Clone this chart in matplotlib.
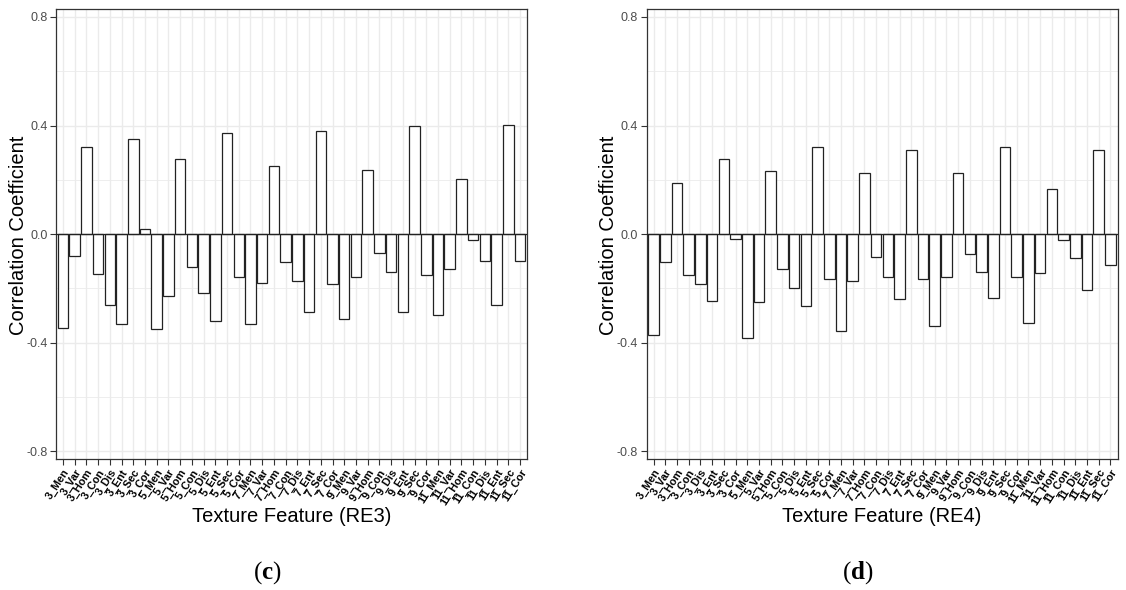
import numpy as np
import matplotlib
matplotlib.use("Agg")
import matplotlib.pyplot as plt

# Texture feature names: window size _ GLCM statistic
windows = ["3", "5", "7", "9", "11"]
stats = ["Men", "Var", "Hom", "Con", "Dis", "Ent", "Sec", "Cor"]
features = [f"{w}_{s}" for w in windows for s in stats]

# Correlation coefficients for red-edge band 3
corr_re3 = [
    -0.346, -0.079, 0.320, -0.146, -0.260, -0.331, 0.350, 0.018,
    -0.350, -0.227, 0.278, -0.121, -0.217, -0.320, 0.373, -0.158,
    -0.331, -0.179, 0.250, -0.103, -0.173, -0.287, 0.381, -0.182,
    -0.313, -0.156, 0.235, -0.070, -0.138, -0.285, 0.397, -0.151,
    -0.298, -0.128, 0.202, -0.021, -0.098, -0.260, 0.403, -0.098,
]

# Correlation coefficients for red-edge band 4
corr_re4 = [
    -0.372, -0.101, 0.189, -0.149, -0.184, -0.245, 0.278, -0.017,
    -0.383, -0.249, 0.231, -0.129, -0.198, -0.265, 0.322, -0.167,
    -0.358, -0.173, 0.224, -0.086, -0.156, -0.239, 0.309, -0.165,
    -0.338, -0.158, 0.224, -0.073, -0.140, -0.234, 0.320, -0.156,
    -0.328, -0.142, 0.168, -0.020, -0.088, -0.205, 0.311, -0.115,
]

panels = [
    (corr_re3, "Texture Feature (RE3)", "c"),
    (corr_re4, "Texture Feature (RE4)", "d"),
]

W, H = 1126, 590
plt.rcParams["font.family"] = ["Liberation Sans", "DejaVu Sans"]
plt.rcParams["mathtext.fontset"] = "custom"
plt.rcParams["mathtext.rm"] = "Liberation Serif"
plt.rcParams["mathtext.bf"] = "Liberation Serif:bold"

fig = plt.figure(figsize=(W / 100, H / 100), dpi=100)
fig.patch.set_facecolor("white")

grid_col = "#EBEBEB"
border_col = "#333333"
tick_text_col = "#4D4D4D"

ax_left_px = [56, 646.5]
ax_top_px, ax_bottom_px = 9, 459
ax_w_px = 471

for (vals, xtitle, tag), left in zip(panels, ax_left_px):
    ax = fig.add_axes([left / W, 1 - ax_bottom_px / H, ax_w_px / W,
                       (ax_bottom_px - ax_top_px) / H])
    x = np.arange(1, len(features) + 1)

    ax.set_xlim(0.4, len(features) + 0.6)
    ax.set_ylim(-0.828, 0.829)

    # grid
    ax.set_yticks([-0.8, -0.4, 0.0, 0.4, 0.8])
    ax.set_yticks([-0.6, -0.2, 0.2, 0.6], minor=True)
    ax.set_xticks(x)
    ax.grid(True, which="major", color=grid_col, linewidth=1.0, zorder=0)
    ax.grid(True, which="minor", axis="y", color=grid_col, linewidth=0.6, zorder=0)
    ax.set_axisbelow(True)

    ax.bar(x, vals, width=0.9, facecolor="white", edgecolor="#222222",
           linewidth=0.9, zorder=2)
    ax.axhline(0, color="#222222", linewidth=0.9, zorder=3)

    ax.set_yticklabels(["-0.8", "-0.4", "0.0", "0.4", "0.8"],
                       color=tick_text_col, fontsize=9)
    ax.set_xticklabels(features, rotation=57, ha="right", va="top",
                       rotation_mode="anchor", fontsize=7.8,
                       fontweight="bold", color="black")
    ax.tick_params(axis="both", which="major", length=4, width=0.8,
                   color=border_col, pad=2)
    ax.tick_params(axis="y", which="minor", length=0)

    for s in ax.spines.values():
        s.set_color(border_col)
        s.set_linewidth(0.9)

    cx = (left + ax_w_px / 2) / W
    fig.text(cx, 1 - 517 / H, xtitle, ha="center", va="center",
             fontsize=14.5, color="black")
    fig.text((left - 37.5) / W, 1 - 235 / H, "Correlation Coefficient",
             rotation=90, ha="center", va="center", fontsize=14.5,
             color="black")
    fig.text((left + 211) / W, 1 - 573 / H,
             r"$\mathrm{(}\mathbf{%s}\mathrm{)}$" % tag,
             ha="center", va="center", fontsize=18, color="black")

fig.savefig("out.png", dpi=100, facecolor="white")
